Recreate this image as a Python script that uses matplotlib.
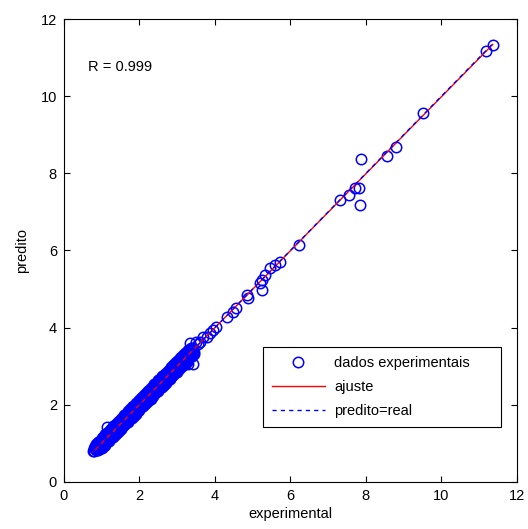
import numpy as np
import matplotlib
matplotlib.use("Agg")
import matplotlib.pyplot as plt

plt.rcParams['font.family'] = ['Liberation Sans', 'DejaVu Sans']

# dense cluster of points (experimental, predicted)
x_dense = [0.76, 0.80, 0.83, 0.86, 0.88, 0.90, 0.92, 0.94, 0.96, 0.98,
           1.00, 1.02, 1.04, 1.06, 1.08, 1.10, 1.12, 1.14, 1.16, 1.18,
           1.20, 1.22, 1.24, 1.26, 1.28, 1.30, 1.32, 1.34, 1.36, 1.38,
           1.40, 1.42, 1.44, 1.46, 1.48, 1.50, 1.52, 1.54, 1.56, 1.58,
           1.60, 1.62, 1.64, 1.66, 1.68, 1.70, 1.72, 1.74, 1.76, 1.78,
           1.80, 1.82, 1.84, 1.86, 1.88, 1.90, 1.92, 1.94, 1.96, 1.98,
           2.00, 2.03, 2.06, 2.09, 2.12, 2.15, 2.18, 2.21, 2.24, 2.27,
           2.30, 2.33, 2.36, 2.39, 2.42, 2.45, 2.48, 2.51, 2.54, 2.57,
           2.60, 2.64, 2.68, 2.72, 2.76, 2.80, 2.84, 2.88, 2.92, 2.96,
           3.00, 3.04, 3.08, 3.12, 3.16, 3.20, 3.24, 3.28, 3.32, 3.36,
           3.40, 3.45, 3.50]
y_dense = [0.79, 0.80, 0.92, 0.82, 0.97, 0.82, 0.97, 0.92, 1.07, 0.89,
           1.03, 0.94, 1.16, 1.02, 1.17, 0.99, 1.17, 1.12, 1.27, 1.09,
           1.23, 1.14, 1.36, 1.22, 1.37, 1.19, 1.37, 1.32, 1.47, 1.29,
           1.43, 1.34, 1.56, 1.42, 1.57, 1.39, 1.57, 1.52, 1.67, 1.49,
           1.63, 1.54, 1.76, 1.62, 1.77, 1.59, 1.77, 1.72, 1.87, 1.69,
           1.83, 1.74, 1.96, 1.82, 1.97, 1.79, 1.97, 1.92, 2.07, 1.89,
           2.03, 1.95, 2.18, 2.05, 2.21, 2.04, 2.23, 2.19, 2.35, 2.18,
           2.33, 2.25, 2.48, 2.35, 2.51, 2.34, 2.53, 2.49, 2.65, 2.48,
           2.63, 2.56, 2.80, 2.68, 2.85, 2.69, 2.89, 2.86, 3.03, 2.87,
           3.03, 2.96, 3.20, 3.08, 3.25, 3.09, 3.29, 3.26, 3.43, 3.27,
           3.43, 3.37, 3.62]

x_mid = [0.85, 0.95, 1.05, 1.15, 1.25, 1.35, 1.45, 1.55, 1.65, 1.75,
         1.85, 1.95, 2.05, 2.15, 2.25, 2.35, 2.45, 2.55, 2.65, 2.75,
         2.85, 2.95, 3.05, 3.15, 3.25, 3.35]
y_mid = [0.86, 0.95, 1.06, 1.14, 1.26, 1.34, 1.46, 1.54, 1.66, 1.74,
         1.86, 1.94, 2.06, 2.14, 2.26, 2.34, 2.46, 2.54, 2.66, 2.74,
         2.86, 2.94, 3.06, 3.14, 3.26, 3.34]

x_mid2 = [0.81, 0.91, 1.01, 1.11, 1.21, 1.31, 1.41, 1.51, 1.61, 1.71,
          1.81, 1.91, 2.01, 2.11, 2.21, 2.31, 2.41, 2.51, 2.61, 2.71,
          2.81, 2.91, 3.01, 3.11, 3.21, 3.31, 3.41]
y_mid2 = [0.87, 0.86, 1.08, 1.06, 1.28, 1.26, 1.48, 1.46, 1.68, 1.66,
          1.88, 1.86, 2.08, 2.06, 2.28, 2.26, 2.48, 2.45, 2.68, 2.65,
          2.88, 2.85, 3.08, 3.05, 3.28, 3.25, 3.48]

# lower edge of the band
x_low = [1.00, 1.05, 1.10, 1.15, 1.20, 1.25, 1.30, 1.35, 1.40, 1.45,
         1.50, 1.55, 1.60, 1.65, 1.70, 1.75, 1.80, 1.85, 1.90, 1.95,
         2.00, 2.05, 2.10, 2.15, 2.20, 2.25, 2.30, 2.35, 2.40, 2.45,
         2.50, 2.55, 2.60, 2.65, 2.70, 2.75, 2.80, 2.85, 2.90, 2.95,
         3.00, 3.05, 3.10, 3.15, 3.20, 3.25, 3.30, 3.35, 3.40, 3.45]
y_low = [0.87, 0.93, 0.96, 1.03, 1.06, 1.13, 1.17, 1.22, 1.27, 1.33,
         1.36, 1.42, 1.47, 1.53, 1.56, 1.63, 1.66, 1.72, 1.77, 1.83,
         1.86, 1.93, 1.96, 2.02, 2.07, 2.13, 2.16, 2.22, 2.27, 2.33,
         2.36, 2.43, 2.46, 2.52, 2.57, 2.63, 2.66, 2.72, 2.77, 2.83,
         2.86, 2.92, 2.97, 3.02, 3.06, 3.12, 3.17, 3.23, 3.26, 3.32]

# upper edge of the band
x_high = [0.85, 0.90, 0.95, 1.00, 1.05, 1.10, 1.15, 1.20, 1.25, 1.30,
          1.35, 1.40, 1.45, 1.50, 1.55, 1.60, 1.65, 1.70, 1.75, 1.80,
          1.85, 1.90, 1.95, 2.00, 2.05, 2.10, 2.15, 2.20, 2.25, 2.30,
          2.35, 2.40, 2.45, 2.50, 2.55, 2.60, 2.65, 2.70, 2.75, 2.80,
          2.85, 2.90, 2.95, 3.00, 3.05, 3.10, 3.15, 3.20, 3.25, 3.30]
y_high = [0.98, 1.04, 1.07, 1.14, 1.17, 1.24, 1.28, 1.33, 1.38, 1.44,
          1.47, 1.53, 1.58, 1.64, 1.67, 1.74, 1.77, 1.83, 1.88, 1.94,
          1.97, 2.04, 2.07, 2.13, 2.18, 2.24, 2.27, 2.33, 2.38, 2.44,
          2.47, 2.54, 2.57, 2.63, 2.68, 2.74, 2.77, 2.83, 2.88, 2.94,
          2.97, 3.03, 3.08, 3.13, 3.17, 3.23, 3.28, 3.34, 3.37, 3.43]

# inner rows
x_in1 = [0.88, 0.93, 0.98, 1.03, 1.08, 1.13, 1.18, 1.23, 1.28, 1.33,
         1.38, 1.43, 1.48, 1.53, 1.58, 1.63, 1.68, 1.73, 1.78, 1.83,
         1.88, 1.93, 1.98, 2.03, 2.08, 2.13, 2.18, 2.23, 2.28, 2.33,
         2.38, 2.43, 2.48, 2.53, 2.58, 2.63, 2.68, 2.73, 2.78, 2.83,
         2.88, 2.93, 2.98, 3.03, 3.08, 3.13, 3.18, 3.23, 3.28, 3.33,
         3.38, 3.43]
y_in1 = [0.82, 0.85, 0.92, 0.96, 1.00, 1.07, 1.10, 1.16, 1.21, 1.25,
         1.32, 1.35, 1.41, 1.46, 1.50, 1.57, 1.60, 1.66, 1.71, 1.75,
         1.82, 1.85, 1.91, 1.96, 2.00, 2.07, 2.10, 2.16, 2.21, 2.25,
         2.32, 2.35, 2.41, 2.46, 2.50, 2.57, 2.60, 2.66, 2.71, 2.75,
         2.82, 2.85, 2.91, 2.96, 3.00, 3.07, 3.10, 3.16, 3.21, 3.25,
         3.32, 3.35]

x_in2 = [0.83, 0.88, 0.93, 0.98, 1.03, 1.08, 1.13, 1.18, 1.23, 1.28,
         1.33, 1.38, 1.43, 1.48, 1.53, 1.58, 1.63, 1.68, 1.73, 1.78,
         1.83, 1.88, 1.93, 1.98, 2.03, 2.08, 2.13, 2.18, 2.23, 2.28,
         2.33, 2.38, 2.43, 2.48, 2.53, 2.58, 2.63, 2.68, 2.73, 2.78,
         2.83, 2.88, 2.93, 2.98, 3.03, 3.08, 3.13, 3.18, 3.23, 3.28,
         3.33, 3.38]
y_in2 = [0.89, 0.96, 0.99, 1.05, 1.10, 1.14, 1.21, 1.24, 1.30, 1.35,
         1.39, 1.46, 1.49, 1.55, 1.60, 1.64, 1.71, 1.74, 1.80, 1.85,
         1.89, 1.96, 1.99, 2.05, 2.10, 2.14, 2.21, 2.24, 2.30, 2.35,
         2.39, 2.46, 2.49, 2.55, 2.60, 2.64, 2.71, 2.74, 2.80, 2.85,
         2.89, 2.96, 2.99, 3.05, 3.10, 3.14, 3.21, 3.24, 3.30, 3.35,
         3.39, 3.46]

# sparse points and outliers
x_sparse = [1.13, 3.34, 3.43, 3.30, 3.55, 3.60, 3.69, 3.78, 3.87, 3.96,
            4.04, 4.31, 4.49, 4.57, 4.84, 4.88, 5.19, 5.24, 5.24, 5.32,
            5.46, 5.59, 5.72, 6.22, 7.31, 7.55, 7.71, 7.82, 7.84, 7.87,
            8.55, 8.79, 9.50, 11.17, 11.36]
y_sparse = [1.43, 3.61, 3.07, 3.05, 3.58, 3.62, 3.76, 3.76, 3.85, 3.94,
            4.02, 4.27, 4.41, 4.50, 4.84, 4.76, 5.15, 5.23, 4.97, 5.36,
            5.54, 5.62, 5.69, 6.14, 7.31, 7.43, 7.61, 7.61, 7.18, 8.37,
            8.45, 8.69, 9.57, 11.17, 11.34]

# linear fit (nearly identical to predito=real)
fit_slope = 0.998
fit_intercept = 0.005

x = np.array(x_dense + x_mid + x_mid2 + x_low + x_high + x_in1 + x_in2 + x_sparse)
y = np.array(y_dense + y_mid + y_mid2 + y_low + y_high + y_in1 + y_in2 + y_sparse)
xl = np.array([x.min(), x.max()])

fig = plt.figure(figsize=(5.28, 5.29), dpi=100)
ax = fig.add_axes([0.121, 0.089, 0.858, 0.875])

ax.plot(x, y, 'o', mfc='none', mec='#0000ff', ms=7.5, mew=1.1,
        label='dados experimentais')
ax.plot(xl, fit_slope * xl + fit_intercept, '-', color='#ff0000', lw=1.0,
        label='ajuste')
ax.plot(xl, xl, '--', color='#0000ff', lw=1.0, dashes=(3, 3),
        label='predito=real')

ax.set_xlim(0, 12)
ax.set_ylim(0, 12)
ax.set_xticks(range(0, 13, 2))
ax.set_yticks(range(0, 13, 2))
ax.tick_params(direction='in', length=4.5, width=0.8, top=True, right=True,
               labelsize=10.5, pad=5)
for s in ax.spines.values():
    s.set_linewidth(0.8)

ax.set_xlabel('experimental', fontsize=10.5, labelpad=3)
ax.set_ylabel('predito', fontsize=10.5, labelpad=8)
ax.text(0.64, 10.75, 'R = 0.999', fontsize=10.5, va='center')

leg = ax.legend(loc='lower left', bbox_to_anchor=(0.439, 0.119, 0.526, 0.175),
                mode='expand', borderaxespad=0, fancybox=False,
                edgecolor='black', framealpha=1, fontsize=10.5,
                handlelength=3.7, labelspacing=0.7, borderpad=0.6,
                handletextpad=0.6)
leg.get_frame().set_linewidth(0.8)

fig.savefig('out.png', dpi=100)
